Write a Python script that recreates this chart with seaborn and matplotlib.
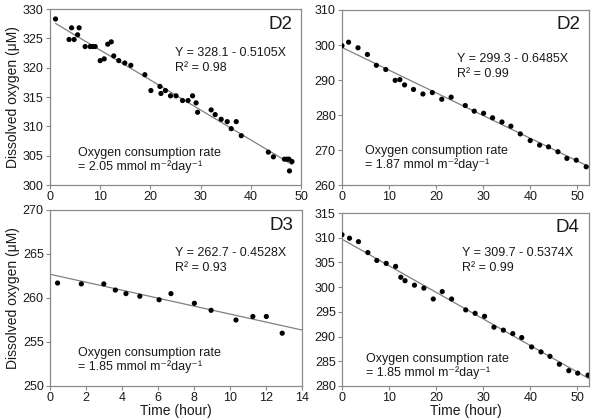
import matplotlib
matplotlib.use("Agg")
import matplotlib.pyplot as plt
import seaborn as sns
import numpy as np
import pandas as pd

# ---- data ----
d2a_time = [1.1, 3.8, 4.3, 4.8, 5.5, 5.8, 7.0, 8.0, 8.5, 9.0, 10.0, 10.8, 11.5, 12.2, 12.7,
            13.7, 14.9, 16.1, 18.9, 20.1, 21.9, 22.1, 23.0, 24.0, 25.1, 26.4, 27.5, 28.4,
            29.1, 29.4, 32.1, 32.9, 34.1, 35.3, 36.1, 37.1, 38.1, 43.5, 44.5, 46.7, 47.2,
            47.6, 47.7, 48.2]
d2a_oxy = [328.3, 324.8, 326.8, 324.8, 325.6, 326.8, 323.6, 323.6, 323.6, 323.6, 321.2, 321.5,
           324.0, 324.4, 322.0, 321.2, 320.8, 320.4, 318.8, 316.1, 316.8, 315.6, 316.1, 315.2,
           315.2, 314.4, 314.4, 315.2, 314.0, 312.4, 312.8, 312.0, 311.2, 310.8, 309.6, 310.8,
           308.4, 305.6, 304.8, 304.4, 304.4, 304.4, 302.4, 304.0]
d2b_time = [0.0, 1.4, 3.4, 5.4, 7.3, 9.3, 11.3, 12.3, 13.3, 15.2, 17.2, 19.2, 21.2, 23.2, 26.2,
            28.1, 30.1, 32.0, 34.0, 35.9, 37.9, 40.0, 42.0, 43.9, 45.9, 47.8, 49.8, 51.9]
d2b_oxy = [299.8, 300.8, 299.2, 297.3, 294.2, 293.0, 289.9, 290.1, 288.6, 287.3, 286.0, 286.4,
           284.5, 285.1, 282.7, 281.1, 280.5, 279.2, 278.0, 276.8, 274.6, 272.7, 271.4, 270.9,
           269.5, 267.6, 267.1, 265.2]
d3_time = [0.42, 1.74, 2.99, 3.63, 4.22, 4.99, 6.06, 6.72, 8.02, 8.95, 10.33, 11.27, 12.02, 12.9]
d3_oxy = [261.7, 261.6, 261.6, 260.9, 260.5, 260.2, 259.8, 260.5, 259.4, 258.6, 257.5, 257.9,
          257.9, 256.0]
d4_time = [0.0, 1.6, 3.5, 5.5, 7.4, 9.4, 11.4, 12.5, 13.4, 15.4, 17.4, 19.4, 21.3, 23.3, 26.3,
           28.3, 30.3, 32.3, 34.3, 36.3, 38.2, 40.3, 42.3, 44.2, 46.2, 48.2, 50.1, 52.3]
d4_oxy = [310.6, 309.9, 309.2, 307.0, 305.4, 304.8, 304.2, 302.0, 301.3, 300.4, 299.8, 297.6,
          299.1, 297.6, 295.4, 294.7, 294.1, 291.9, 291.3, 290.6, 289.8, 287.9, 286.9, 286.0,
          284.4, 283.1, 282.6, 282.2]

panel_labels = ["D2", "D2", "D3", "D4"]
intercepts = [328.1, 299.3, 262.7, 309.7]
slopes = [0.5105, 0.6485, 0.4528, 0.5374]
r2_values = ["0.98", "0.99", "0.93", "0.99"]
rates = ["2.05", "1.87", "1.85", "1.85"]
fit_ranges = [(1.1, 48.2), (0, 52.5), (0, 14), (0, 52.5)]

# ---- style ----
sns.set_style("white")
plt.rcParams["font.family"] = ["Liberation Sans", "DejaVu Sans"]
plt.rcParams["mathtext.fontset"] = "custom"
plt.rcParams["mathtext.rm"] = "Liberation Sans"
plt.rcParams["mathtext.it"] = "Liberation Sans:italic"
plt.rcParams["mathtext.default"] = "regular"

W, H = 591, 418
fig = plt.figure(figsize=(W / 100, H / 100), dpi=100)

def rect(l, r, t, b):
    return [l / W, 1 - b / H, (r - l) / W, (b - t) / H]

rects = [rect(50, 301, 9, 185), rect(342, 589, 10, 185),
         rect(50, 302, 210, 386), rect(342, 589, 213, 386)]
xlims = [(0, 50), (0, 52.5), (0, 14), (0, 52.5)]
ylims = [(300, 330), (260, 310), (250, 270), (280, 315)]
xticks = [np.arange(0, 51, 10), np.arange(0, 51, 10), np.arange(0, 15, 2), np.arange(0, 51, 10)]
yticks = [np.arange(300, 331, 5), np.arange(260, 311, 10), np.arange(250, 271, 5), np.arange(280, 316, 5)]
times = [d2a_time, d2b_time, d3_time, d4_time]
oxys = [d2a_oxy, d2b_oxy, d3_oxy, d4_oxy]

# positions in pixels within each axes: (left, baseline1, baseline2)
eq_px = [(125, 47, 62), (115, 52, 67), (125, 46, 61), (120, 43, 58)]
ox_px = [(28, 147, 161), (23, 144, 158), (28, 146, 160), (24, 149, 163)]
lab_px = [(243, 20), (238, 19), (243, 20), (237, 19)]

spine_col = "#8a8a8a"
txt_col = "#1a1a1a"

for i in range(4):
    l, b, w, h = rects[i]
    wpx, hpx = w * W, h * H
    ax = fig.add_axes(rects[i])
    df = pd.DataFrame({"t": times[i], "o": oxys[i]})
    x0, x1 = fit_ranges[i]
    fit = pd.DataFrame({"t": [x0, x1],
                        "o": [intercepts[i] - slopes[i] * x0, intercepts[i] - slopes[i] * x1]})
    sns.lineplot(data=fit, x="t", y="o", ax=ax, color="#808080", linewidth=0.9, zorder=2)
    sns.scatterplot(data=df, x="t", y="o", ax=ax, color="black", s=14, edgecolor="none",
                    linewidth=0, zorder=3)
    ax.set_xlim(*xlims[i])
    ax.set_ylim(*ylims[i])
    ax.set_xticks(xticks[i])
    ax.set_yticks(yticks[i])
    for sp in ax.spines.values():
        sp.set_color(spine_col)
        sp.set_linewidth(0.9)
    ax.tick_params(axis="both", which="major", direction="out", length=3, width=0.8,
                   color=spine_col, labelsize=9, labelcolor=txt_col, pad=1.5,
                   bottom=True, left=True, top=False, right=False)
    ax.set_xlabel("Time (hour)" if i >= 2 else "", fontsize=10, color=txt_col, labelpad=0)
    ax.set_ylabel("Dissolved oxygen (\u03bcM)" if i % 2 == 0 else "", fontsize=10,
                  color=txt_col, labelpad=2)
    fx = lambda px: px / wpx
    fy = lambda py: 1 - py / hpx
    ex, e1, e2 = eq_px[i]
    ax.text(fx(ex), fy(e1), f"Y = {intercepts[i]} - {slopes[i]:.4f}X", transform=ax.transAxes,
            fontsize=9, color=txt_col, va="baseline", ha="left")
    ax.text(fx(ex), fy(e2), f"R\u00b2 = {r2_values[i]}", transform=ax.transAxes,
            fontsize=9, color=txt_col, va="baseline", ha="left")
    ox, o1, o2 = ox_px[i]
    ax.text(fx(ox), fy(o1), "Oxygen consumption rate", transform=ax.transAxes,
            fontsize=9, color=txt_col, va="baseline", ha="left")
    ax.text(fx(ox), fy(o2), f"= {rates[i]} mmol m\u207b\u00b2day\u207b\u00b9", transform=ax.transAxes,
            fontsize=9, color=txt_col, va="baseline", ha="left")
    lx, ly = lab_px[i]
    ax.text(fx(lx), fy(ly), panel_labels[i], transform=ax.transAxes, fontsize=13.5, color=txt_col,
            va="baseline", ha="right")

fig.savefig("out.png", dpi=100)
